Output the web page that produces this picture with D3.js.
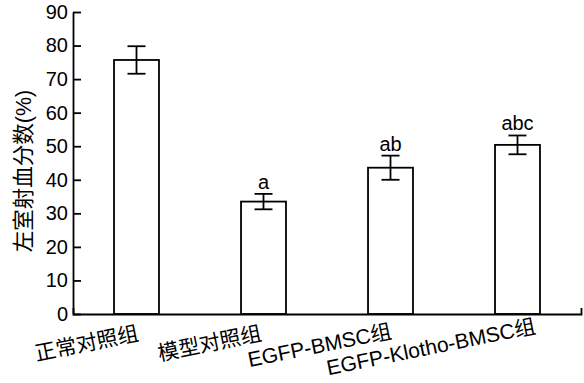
<!DOCTYPE html>
<html>
<head>
<meta charset="utf-8">
<script src="https://cdn.jsdelivr.net/npm/d3@7"></script>
<style>
  body { margin: 0; background: #fff; }
  svg text { font-family: "Liberation Sans", Arial, "Noto Sans CJK SC", sans-serif; fill: #000; }
</style>
</head>
<body>
<div id="chart"></div>
<script>
const groups = ['正常对照组', '模型对照组', 'EGFP-BMSC组', 'EGFP-Klotho-BMSC组'];
const means = [75.7, 33.5, 43.6, 50.4];
const errors = [4.1, 2.3, 3.6, 2.8];
const letters = ['', 'a', 'ab', 'abc'];
const yTicks = [0, 10, 20, 30, 40, 50, 60, 70, 80, 90];

const width = 584;
const height = 383;

// label nudges (the last label sits further right in the original)
const labelShift = [[3, 1], [-1, 1], [2, -1], [19, -6]];

const data = groups.map((g, i) => ({ group: g, mean: means[i], err: errors[i], letter: letters[i] }));

const svg = d3.select('#chart')
  .append('svg')
  .attr('width', width)
  .attr('height', height);

const x = d3.scaleBand()
  .domain(groups)
  .range([73, 581])
  .paddingInner(0.646)
  .paddingOuter(0.323);

const y = d3.scaleLinear()
  .domain([0, 90])
  .range([314, 12]);

// y axis, ticks pointing inward
const yAxis = svg.append('g')
  .attr('transform', 'translate(73,0)')
  .call(d3.axisLeft(y).tickValues(yTicks).tickSize(-8).tickSizeOuter(0).tickPadding(5));
yAxis.selectAll('path, line').attr('stroke', '#000').attr('stroke-width', 1.8);
yAxis.selectAll('text').style('font-size', '20px');

// bars
svg.append('g')
  .selectAll('rect')
  .data(data)
  .join('rect')
  .attr('x', d => x(d.group))
  .attr('y', d => y(d.mean))
  .attr('width', x.bandwidth())
  .attr('height', d => y(0) - y(d.mean))
  .attr('fill', '#fff')
  .attr('stroke', '#000')
  .attr('stroke-width', 1.8);

// error bars
const eb = svg.append('g').attr('stroke', '#000').attr('stroke-width', 1.8);
const cx = d => x(d.group) + x.bandwidth() / 2;
eb.selectAll('line.v').data(data).join('line').attr('class', 'v')
  .attr('x1', cx).attr('x2', cx)
  .attr('y1', d => y(d.mean + d.err)).attr('y2', d => y(d.mean - d.err));
eb.selectAll('line.t').data(data).join('line').attr('class', 't')
  .attr('x1', d => cx(d) - 9).attr('x2', d => cx(d) + 9)
  .attr('y1', d => y(d.mean + d.err)).attr('y2', d => y(d.mean + d.err));
eb.selectAll('line.b').data(data).join('line').attr('class', 'b')
  .attr('x1', d => cx(d) - 9).attr('x2', d => cx(d) + 9)
  .attr('y1', d => y(d.mean - d.err)).attr('y2', d => y(d.mean - d.err));

// significance letters
svg.append('g')
  .selectAll('text')
  .data(data)
  .join('text')
  .attr('x', cx)
  .attr('y', d => y(d.mean + d.err) - 5)
  .attr('text-anchor', 'middle')
  .style('font-size', '20px')
  .text(d => d.letter);

// x axis
const xAxis = svg.append('g')
  .attr('transform', `translate(0,${y(0)})`)
  .call(d3.axisBottom(x).tickSize(0).tickSizeOuter(-6).tickFormat(''));
xAxis.selectAll('path').attr('stroke', '#000').attr('stroke-width', 1.8);

// rotated category labels
svg.append('g')
  .selectAll('text')
  .data(groups)
  .join('text')
  .attr('text-anchor', 'end')
  .attr('transform', (d, i) => {
    const px = x(d) + x.bandwidth() / 2 + labelShift[i][0];
    const py = 339 + labelShift[i][1];
    return `translate(${px},${py}) rotate(-11.5)`;
  })
  .style('font-size', '21px')
  .text(d => d);

// y axis title
svg.append('text')
  .attr('transform', 'translate(31,171) rotate(-90)')
  .attr('text-anchor', 'middle')
  .style('font-size', '21.5px')
  .text('左室射血分数(%)');
</script>
</body>
</html>
